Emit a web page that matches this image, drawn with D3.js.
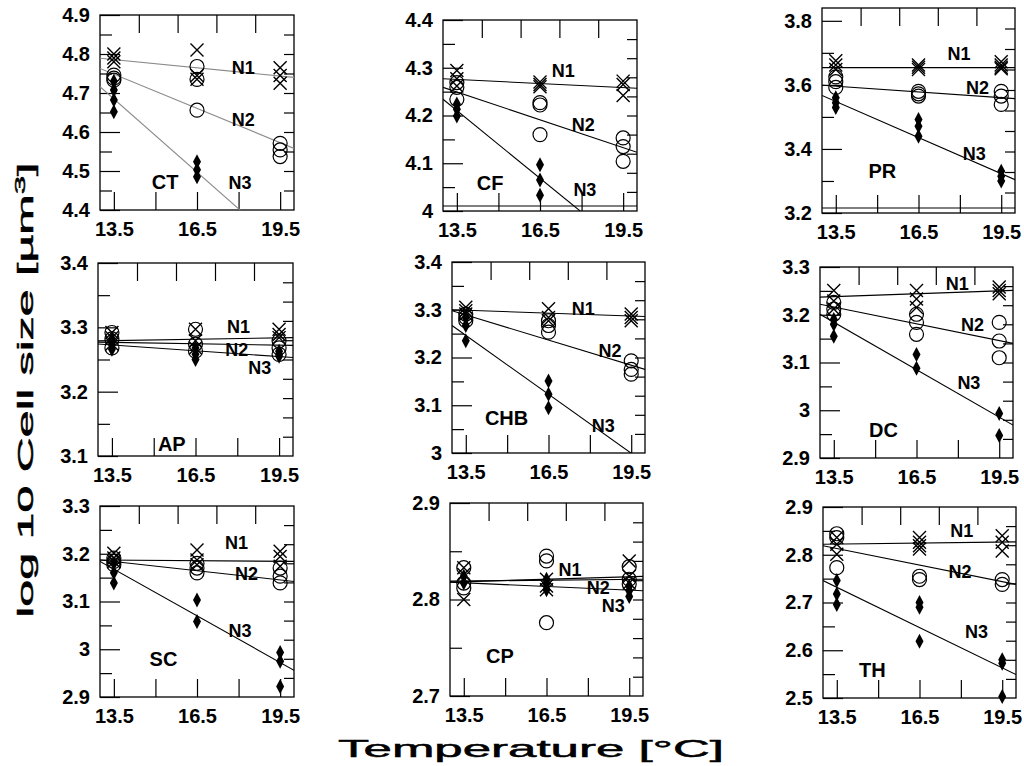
<!DOCTYPE html>
<html>
<head>
<meta charset="utf-8">
<script src="https://cdn.jsdelivr.net/npm/d3@7"></script>
<style>
  body { margin: 0; background: #fff; }
  svg { font-family: "Liberation Sans", Arial, sans-serif; }
</style>
</head>
<body>
<script>
// temperatures of the three treatments
const temps = [13.5, 16.5, 19.5];
const xTickLabels = ["13.5", "16.5", "19.5"];
const panelNames = ["CT", "CF", "PR", "AP", "CHB", "DC", "SC", "CP", "TH"];
const seriesNames = ["N1", "N2", "N3"];

const yDomains = [[4.4, 4.9], [4.0, 4.4], [3.2, 3.84], [3.1, 3.4], [3.0, 3.4], [2.9, 3.3], [2.9, 3.3], [2.7, 2.9], [2.5, 2.9]];
const yTickLabels = [
    ["4.4", "4.5", "4.6", "4.7", "4.8", "4.9"],
    ["4", "4.1", "4.2", "4.3", "4.4"],
    ["3.2", "3.4", "3.6", "3.8"],
    ["3.1", "3.2", "3.3", "3.4"],
    ["3", "3.1", "3.2", "3.3", "3.4"],
    ["2.9", "3", "3.1", "3.2", "3.3"],
    ["2.9", "3", "3.1", "3.2", "3.3"],
    ["2.7", "2.8", "2.9"],
    ["2.5", "2.6", "2.7", "2.8", "2.9"]
];
const yMinorStep = [0.05, 0.05, 0.1, 0.05, 0.05, 0.05, 0.05, 0.05, 0.05];

// N1 (crosses): values at 13.5, 16.5, 19.5
const n1Values = [
    [[4.80, 4.79, 4.78], [4.81, 4.745, 4.735], [4.765, 4.745, 4.725]],
    [[4.294, 4.277, 4.262], [4.27, 4.265, 4.26], [4.272, 4.265, 4.242]],
    [[3.675, 3.662, 3.648], [3.662, 3.655, 3.648], [3.672, 3.662, 3.655, 3.65]],
    [[3.292, 3.284, 3.274], [3.297, 3.279, 3.268], [3.297, 3.289, 3.284]],
    [[3.305, 3.298, 3.291], [3.302, 3.284, 3.277], [3.291, 3.284, 3.277]],
    [[3.251, 3.229, 3.212], [3.251, 3.233, 3.215], [3.258, 3.251, 3.244]],
    [[3.201, 3.191, 3.184], [3.208, 3.187, 3.177], [3.205, 3.194, 3.174]],
    [[2.833, 2.826, 2.80], [2.821, 2.814, 2.81], [2.84, 2.824, 2.817]],
    [[2.836, 2.822, 2.801], [2.836, 2.826, 2.819, 2.812], [2.84, 2.826, 2.808]]
];
// N2 (open circles)
const n2Values = [
    [[4.746, 4.738, 4.733], [4.768, 4.735, 4.656], [4.571, 4.554, 4.537]],
    [[4.269, 4.259, 4.234], [4.227, 4.222, 4.16], [4.153, 4.135, 4.104]],
    [[3.625, 3.61, 3.592], [3.58, 3.572, 3.565], [3.58, 3.565, 3.539]],
    [[3.292, 3.282, 3.268], [3.297, 3.274, 3.263], [3.279, 3.268, 3.258]],
    [[3.291, 3.284, 3.277], [3.277, 3.267, 3.253], [3.193, 3.175, 3.165]],
    [[3.226, 3.212, 3.201], [3.201, 3.184, 3.159], [3.184, 3.145, 3.11]],
    [[3.191, 3.184, 3.177], [3.18, 3.17, 3.16], [3.17, 3.153, 3.139]],
    [[2.833, 2.817, 2.812], [2.845, 2.84, 2.776], [2.834, 2.821, 2.816]],
    [[2.844, 2.836, 2.773], [2.755, 2.748], [2.748, 2.738]]
];
// N3 (filled diamonds)
const n3Values = [
    [[4.73, 4.708, 4.682, 4.652], [4.524, 4.503, 4.485], []],
    [[4.224, 4.213, 4.199], [4.097, 4.065, 4.033], []],
    [[3.56, 3.544, 3.529], [3.492, 3.471, 3.44], [3.33, 3.315, 3.30]],
    [[3.282, 3.274, 3.266], [3.268, 3.258, 3.25], [3.263, 3.258, 3.255]],
    [[3.284, 3.267, 3.235], [3.151, 3.123, 3.095], []],
    [[3.19, 3.18, 3.155], [3.117, 3.088], [2.993, 2.947]],
    [[3.18, 3.16, 3.139], [3.103, 3.058], [2.993, 2.975, 2.922]],
    [[2.824, 2.817], [2.821, 2.816, 2.81], [2.814, 2.809, 2.803]],
    [[2.746, 2.718, 2.696], [2.70, 2.69, 2.619], [2.58, 2.573, 2.503]]
];

// regression lines: value at 13 and at 20 degrees
const n1Fit = [[4.789, 4.740], [4.277, 4.257], [3.654, 3.654], [3.279, 3.284], [3.300, 3.286], [3.237, 3.251], [3.187, 3.184], [2.818, 2.824], [2.822, 2.827]];
const n2Fit = [[4.763, 4.558], [4.259, 4.123], [3.599, 3.557], [3.277, 3.272], [3.298, 3.175], [3.222, 3.140], [3.187, 3.142], [2.819, 2.821], [2.819, 2.738]];
const n3Fit = [[4.716, 4.278], [4.234, 3.903], [3.567, 3.304], [3.274, 3.253], [3.267, 2.979], [3.201, 2.969], [3.184, 2.956], [2.818, 2.809], [2.746, 2.549]];

// where the N1/N2/N3 and panel names sit, in data units
const n1LabelAt = [[18.17, 4.763], [17.34, 4.294], [17.97, 3.696], [18.04, 3.300], [17.76, 3.302], [17.98, 3.265], [17.93, 3.222], [17.35, 2.831], [18.03, 2.850]];
const n2LabelAt = [[18.17, 4.631], [18.06, 4.181], [18.64, 3.591], [17.98, 3.265], [18.73, 3.214], [18.53, 3.178], [18.29, 3.158], [18.38, 2.812], [17.97, 2.764]];
const n3LabelAt = [[18.05, 4.468], [18.12, 4.044], [18.52, 3.383], [18.81, 3.237], [18.49, 3.056], [18.40, 3.058], [18.05, 3.038], [18.92, 2.793], [18.57, 2.639]];
const nameAt = [[15.35, 4.473], [14.70, 4.058], [15.19, 3.330], [15.65, 3.118], [14.98, 3.074], [15.30, 2.959], [15.29, 2.979], [14.81, 2.741], [14.79, 2.558]];

// panel boxes in the page: left, top, right, bottom
const panelBoxes = [
    [100, 15, 294, 210], [443, 20, 637, 211], [822, 8, 1015, 213],
    [98, 263, 293, 456], [452, 262, 645, 453], [820, 267, 1013, 458],
    [100, 506, 294, 697], [450, 503, 643, 696], [823, 507, 1016, 698]
];

const xDomain = [13, 20];
const bottomTicks = [13.5, 15, 16.5, 18, 19.5];
const topTicks = d3.range(1, 5).map(i => xDomain[0] + (xDomain[1] - xDomain[0]) * i / 5);

const svg = d3.select("body").append("svg")
    .attr("width", 1024)
    .attr("height", 766);

const crossPath = "M-6.5,-6.5L6.5,6.5M-6.5,6.5L6.5,-6.5";
const diamondPath = "M0,-7.5L4,0L0,7.5L-4,0Z";

function styleAxis(g) {
    g.attr("font-family", null).attr("font-size", 20).attr("font-weight", "bold");
    g.select(".domain").remove();
    g.selectAll("line").attr("stroke", "#000").attr("stroke-width", 1.2);
}

panelNames.forEach(function(name, p) {
    const [x0, y0, x1, y1] = panelBoxes[p];
    const [yMin, yMax] = yDomains[p];
    const lineColor = p === 0 ? "#8a8a8a" : "#000";

    const x = d3.scaleLinear().domain(xDomain).range([x0, x1]);
    const y = d3.scaleLinear().domain([yMin, yMax]).range([y1, y0]);

    const g = svg.append("g").attr("class", "panel-" + name);

    g.append("clipPath")
        .attr("id", "clip" + p)
        .append("rect")
        .attr("x", x0).attr("y", y0)
        .attr("width", x1 - x0).attr("height", y1 - y0);

    const majors = yTickLabels[p].map(Number);
    const nMinor = Math.floor((yMax - yMin) / yMinorStep[p] + 1e-6);
    const minors = d3.range(0, nMinor + 1).map(i => +(yMin + i * yMinorStep[p]).toFixed(3))
        .filter(v => !majors.some(m => Math.abs(m - v) < 1e-6));
    const rightTicks = d3.range(1, 10).map(i => yMin + (yMax - yMin) * i / 10);

    // inward ticks on all four sides
    g.append("g").attr("transform", "translate(" + x0 + ",0)")
        .call(d3.axisRight(y).tickValues(minors).tickSize(12).tickFormat(""))
        .call(styleAxis);
    g.append("g").attr("transform", "translate(" + x0 + ",0)")
        .call(d3.axisRight(y).tickValues(majors).tickSize(20).tickFormat(""))
        .call(styleAxis);
    g.append("g").attr("transform", "translate(" + x1 + ",0)")
        .call(d3.axisLeft(y).tickValues(rightTicks).tickSize(10).tickFormat(""))
        .call(styleAxis);
    g.append("g").attr("transform", "translate(0," + y1 + ")")
        .call(d3.axisTop(x).tickValues(bottomTicks).tickSize(18).tickFormat(""))
        .call(styleAxis);
    g.append("g").attr("transform", "translate(0," + y0 + ")")
        .call(d3.axisBottom(x).tickValues(topTicks).tickSize(18).tickFormat(""))
        .call(styleAxis);

    // tick labels
    g.append("g").attr("transform", "translate(" + x0 + ",0)")
        .call(d3.axisLeft(y).tickValues(majors).tickSize(0).tickPadding(10)
            .tickFormat(d => yTickLabels[p][majors.indexOf(d)]))
        .call(styleAxis);
    g.append("g").attr("transform", "translate(0," + y1 + ")")
        .call(d3.axisBottom(x).tickValues(temps).tickSize(0).tickPadding(12)
            .tickFormat(d => xTickLabels[temps.indexOf(d)]))
        .call(styleAxis);

    // frame
    g.append("rect")
        .attr("x", x0).attr("y", y0)
        .attr("width", x1 - x0).attr("height", y1 - y0)
        .attr("fill", "none")
        .attr("stroke", "#000")
        .attr("stroke-width", 1.3);

    // double base line seen in CF and PR
    if (p === 1 || p === 2) {
        g.append("line")
            .attr("x1", x0).attr("x2", x1)
            .attr("y1", y1 - 5).attr("y2", y1 - 5)
            .attr("stroke", "#000").attr("stroke-width", 1.1);
    }

    // regression lines
    const fits = [n1Fit[p], n2Fit[p], n3Fit[p]];
    g.append("g").attr("clip-path", "url(#clip" + p + ")")
        .selectAll("line")
        .data(fits)
        .enter().append("line")
        .attr("x1", x(xDomain[0]))
        .attr("x2", x(xDomain[1]))
        .attr("y1", d => y(d[0]))
        .attr("y2", d => y(d[1]))
        .attr("stroke", lineColor)
        .attr("stroke-width", 1.1);

    function points(series) {
        const pts = [];
        series[p].forEach(function(vals, t) {
            vals.forEach(v => pts.push({ x: temps[t], y: v }));
        });
        return pts;
    }

    // N1 crosses
    g.selectAll(".n1")
        .data(points(n1Values))
        .enter().append("path")
        .attr("class", "n1")
        .attr("d", crossPath)
        .attr("transform", d => "translate(" + x(d.x) + "," + y(d.y) + ")")
        .attr("fill", "none")
        .attr("stroke", "#000")
        .attr("stroke-width", 1.4);

    // N2 circles
    g.selectAll(".n2")
        .data(points(n2Values))
        .enter().append("circle")
        .attr("class", "n2")
        .attr("cx", d => x(d.x))
        .attr("cy", d => y(d.y))
        .attr("r", 7)
        .attr("fill", "none")
        .attr("stroke", "#000")
        .attr("stroke-width", 1.2);

    // N3 diamonds
    g.selectAll(".n3")
        .data(points(n3Values))
        .enter().append("path")
        .attr("class", "n3")
        .attr("d", diamondPath)
        .attr("transform", d => "translate(" + x(d.x) + "," + y(d.y) + ")")
        .attr("fill", "#000");

    // series labels
    const labelAt = [n1LabelAt[p], n2LabelAt[p], n3LabelAt[p]];
    g.selectAll(".series-label")
        .data(seriesNames)
        .enter().append("text")
        .attr("class", "series-label")
        .attr("x", (d, i) => x(labelAt[i][0]))
        .attr("y", (d, i) => y(labelAt[i][1]))
        .attr("text-anchor", "middle")
        .attr("dominant-baseline", "central")
        .attr("font-size", 18)
        .attr("font-weight", "bold")
        .text(d => d);

    // panel name
    g.append("text")
        .attr("x", x(nameAt[p][0]))
        .attr("y", y(nameAt[p][1]))
        .attr("text-anchor", "middle")
        .attr("dominant-baseline", "central")
        .attr("font-size", 20)
        .attr("font-weight", "bold")
        .text(name);
});

// x-axis title, stretched wide like the original
const xTitleG = svg.append("g");
const xTitle = xTitleG.append("text")
    .attr("text-anchor", "middle")
    .attr("font-size", 24)
    .attr("stroke", "#000")
    .attr("stroke-width", 0.5)
    .text("Temperature [°C]");
const xLen = xTitle.node().getComputedTextLength();
xTitleG.attr("transform", "translate(531,757) scale(" + (386 / xLen) + ",1)");

// y-axis title
const yTitleG = svg.append("g");
const yTitle = yTitleG.append("text")
    .attr("text-anchor", "middle")
    .attr("font-size", 22)
    .attr("stroke", "#000")
    .attr("stroke-width", 0.5);
yTitle.append("tspan").text("log 10 Cell size [µm");
yTitle.append("tspan").attr("font-size", 15).attr("dy", -8).text("3");
yTitle.append("tspan").attr("dy", 8).text("]");
const yLen = yTitle.node().getComputedTextLength();
yTitleG.attr("transform", "translate(33,390) rotate(-90) scale(" + (455 / yLen) + ",1)");
</script>
</body>
</html>
